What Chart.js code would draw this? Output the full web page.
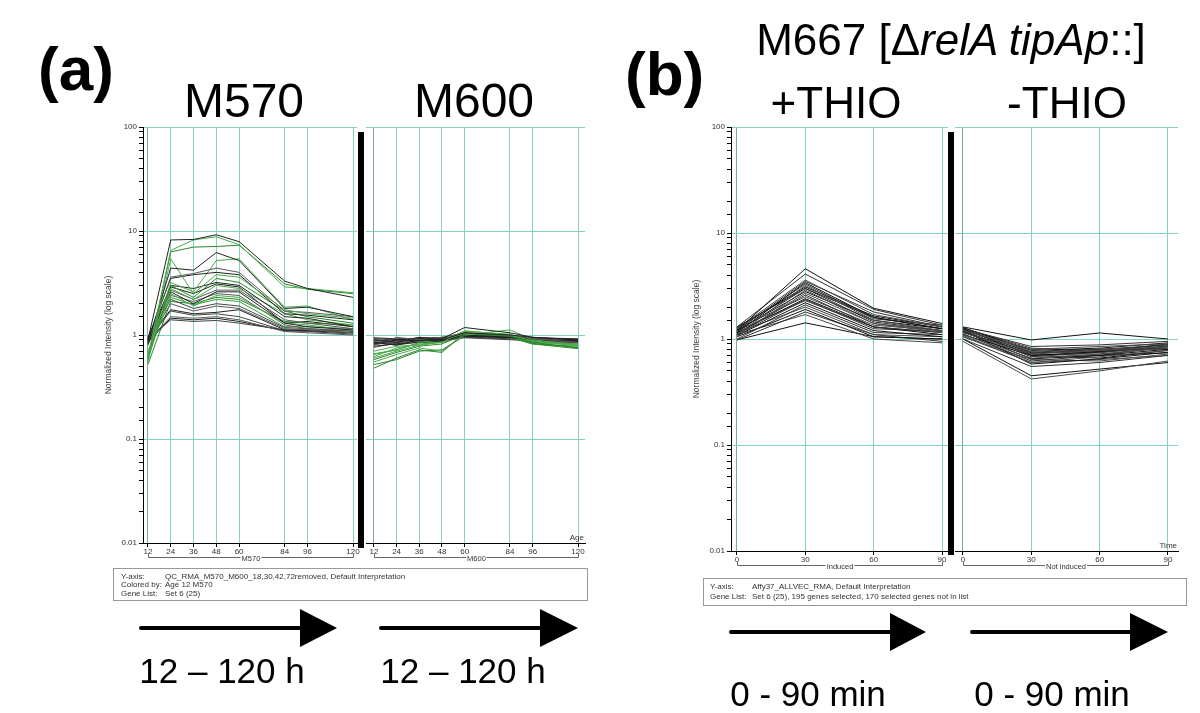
<!DOCTYPE html>
<html>
<head>
<meta charset="utf-8">
<script src="https://cdn.jsdelivr.net/npm/chart.js@4.4.1/dist/chart.umd.min.js"></script>
<style>
  body { margin: 0; background: #fff; width: 1200px; height: 713px; overflow: hidden; position: relative; font-family: "Liberation Sans", Arial, sans-serif; }
  .plot { position: absolute; }
  svg { position: absolute; left: 0; top: 0; }
</style>
</head>
<body>
<div id="a1" class="plot"><canvas></canvas></div>
<div id="a2" class="plot"><canvas></canvas></div>
<div id="b1" class="plot"><canvas></canvas></div>
<div id="b2" class="plot"><canvas></canvas></div>

<svg width="1200" height="713" font-family="Liberation Sans, Arial, sans-serif">
  <!-- panel labels and titles -->
  <text x="38" y="90" font-size="62" font-weight="bold">(a)</text>
  <text x="244" y="117" font-size="48" text-anchor="middle">M570</text>
  <text x="474" y="117" font-size="48" text-anchor="middle">M600</text>
  <text x="625" y="95" font-size="62" font-weight="bold">(b)</text>
  <text x="951" y="55" font-size="44" text-anchor="middle">M667 [Δ<tspan font-style="italic">relA tipAp</tspan>::]</text>
  <text x="836" y="118" font-size="44" text-anchor="middle">+THIO</text>
  <text x="1067" y="118" font-size="44" text-anchor="middle">-THIO</text>

  <!-- separators -->
  <rect x="358" y="132" width="6" height="416" fill="#000"/>
  <rect x="948" y="132" width="6" height="423" fill="#000"/>

  <!-- info boxes -->
  <g font-size="8" fill="#333">
    <rect x="113.5" y="568.5" width="474" height="32" fill="#fff" stroke="#999"/>
    <text x="121" y="579">Y-axis:</text>
    <text x="165" y="579">QC_RMA_M570_M600_18,30,42,72removed, Default Interpretation</text>
    <text x="121" y="587">Colored by:</text>
    <text x="165" y="587">Age 12  M570</text>
    <text x="121" y="596">Gene List:</text>
    <text x="165" y="596">Set 6 (25)</text>

    <rect x="703.5" y="578.5" width="483" height="27" fill="#fff" stroke="#999"/>
    <text x="710" y="589">Y-axis:</text>
    <text x="752" y="589">Affy37_ALLVEC_RMA, Default Interpretation</text>
    <text x="710" y="599">Gene List:</text>
    <text x="752" y="599">Set 6 (25), 195 genes selected, 170 selected genes not in list</text>
  </g>

  <!-- arrows -->
  <g stroke="#000" stroke-width="4" stroke-linecap="round">
    <line x1="141" y1="628" x2="302" y2="628"/>
    <line x1="381" y1="628" x2="542" y2="628"/>
    <line x1="731" y1="632" x2="892" y2="632"/>
    <line x1="972" y1="632" x2="1132" y2="632"/>
  </g>
  <polygon points="300,609 337,628 300,647" fill="#000"/>
  <polygon points="540,609 578,628 540,647" fill="#000"/>
  <polygon points="890,613 926,632 890,651" fill="#000"/>
  <polygon points="1130,613 1168,632 1130,651" fill="#000"/>
  <g font-size="35" text-anchor="middle">
    <text x="222" y="683">12 – 120 h</text>
    <text x="463" y="683">12 – 120 h</text>
    <text x="808" y="706">0 - 90 min</text>
    <text x="1052" y="706">0 - 90 min</text>
  </g>
</svg>

<script>
// sampling times
const hoursA = [12, 24, 36, 48, 60, 84, 96, 120];
const minutesB = [0, 30, 60, 90];

// (a) Set 6 genes, strain M570 (normalized intensity per age)
const m570 = [
  [0.90, 8.2, 8.3, 9.2, 7.9, 3.3, 2.8, 2.3],
  [0.62, 6.5, 8.2, 8.8, 7.4, 2.9, 2.8, 2.55],
  [0.60, 6.3, 7.0, 7.1, 7.3, 3.1, 2.75, 2.5],
  [0.85, 4.4, 4.2, 6.2, 5.2, 1.8, 1.85, 1.5],
  [0.55, 5.4, 2.5, 3.8, 3.6, 1.75, 1.6, 1.45],
  [0.88, 3.6, 3.9, 4.4, 4.0, 1.7, 1.65, 1.5],
  [0.92, 3.5, 3.8, 4.0, 3.8, 1.6, 1.55, 1.4],
  [0.65, 3.2, 2.6, 5.2, 5.4, 1.85, 1.9, 1.4],
  [0.58, 3.0, 2.3, 3.5, 3.2, 1.7, 1.5, 1.3],
  [0.80, 3.0, 2.8, 3.2, 3.0, 1.5, 1.45, 1.2],
  [0.60, 2.8, 2.2, 3.0, 2.8, 1.6, 1.4, 1.25],
  [0.85, 2.7, 2.2, 2.7, 2.7, 1.4, 1.3, 1.15],
  [0.90, 2.6, 2.0, 2.6, 2.6, 1.3, 1.2, 1.12],
  [0.70, 2.5, 1.9, 2.4, 2.3, 1.3, 1.25, 1.1],
  [0.82, 2.4, 2.1, 2.5, 2.4, 1.25, 1.15, 1.1],
  [0.66, 2.3, 1.95, 2.2, 2.1, 1.2, 1.2, 1.15],
  [0.90, 2.2, 1.8, 2.0, 1.9, 1.18, 1.15, 1.08],
  [0.87, 2.0, 1.7, 1.9, 1.8, 1.15, 1.12, 1.05],
  [0.93, 1.75, 1.6, 1.65, 1.75, 1.12, 1.1, 1.05],
  [0.90, 1.7, 1.55, 1.6, 1.5, 1.1, 1.08, 1.02],
  [0.88, 1.5, 1.45, 1.5, 1.4, 1.08, 1.05, 1.0],
  [0.85, 1.45, 1.4, 1.45, 1.35, 1.1, 1.1, 1.05],
  [0.92, 1.4, 1.35, 1.38, 1.3, 1.12, 1.12, 1.1],
  [0.52, 2.1, 2.0, 2.3, 2.2, 1.35, 1.3, 1.25],
  [0.95, 2.9, 2.5, 3.1, 2.9, 1.3, 1.35, 1.2]
];

// (a) same genes, strain M600
const m600 = [
  [0.90, 0.85, 0.95, 0.90, 1.05, 1.00, 0.95, 0.90],
  [0.60, 0.70, 0.80, 0.85, 1.10, 1.00, 0.88, 0.78],
  [0.48, 0.60, 0.72, 0.68, 1.05, 0.98, 0.85, 0.75],
  [0.82, 0.90, 0.88, 0.92, 1.18, 1.05, 0.95, 0.90],
  [0.55, 0.65, 0.75, 0.70, 1.00, 1.12, 0.90, 0.80],
  [0.80, 0.95, 0.90, 0.95, 1.05, 1.00, 0.92, 0.85],
  [0.85, 0.80, 0.90, 0.88, 1.00, 0.95, 0.90, 0.88],
  [0.65, 0.72, 0.85, 0.90, 1.08, 1.02, 0.85, 0.80],
  [0.58, 0.68, 0.78, 0.82, 1.02, 0.97, 0.83, 0.76],
  [0.78, 0.82, 0.85, 0.88, 0.98, 0.95, 0.90, 0.86],
  [0.62, 0.75, 0.82, 0.85, 1.05, 0.98, 0.86, 0.80],
  [0.88, 0.85, 0.95, 0.92, 1.00, 0.98, 0.92, 0.90],
  [0.92, 0.90, 0.92, 0.95, 0.97, 0.95, 0.94, 0.92],
  [0.70, 0.78, 0.80, 0.86, 1.02, 0.96, 0.84, 0.82],
  [0.80, 0.88, 0.86, 0.90, 0.96, 0.93, 0.90, 0.85],
  [0.66, 0.72, 0.84, 0.86, 1.00, 0.95, 0.82, 0.78],
  [0.90, 0.86, 0.90, 0.88, 0.98, 0.94, 0.92, 0.88],
  [0.86, 0.84, 0.88, 0.90, 1.00, 0.96, 0.90, 0.86],
  [0.94, 0.92, 0.93, 0.94, 0.96, 0.92, 0.90, 0.87],
  [0.84, 0.80, 0.86, 0.87, 0.95, 0.93, 0.88, 0.84],
  [0.76, 0.84, 0.88, 0.85, 0.97, 0.94, 0.86, 0.82],
  [0.82, 0.88, 0.90, 0.92, 0.99, 0.96, 0.92, 0.89],
  [0.88, 0.90, 0.85, 0.90, 0.94, 0.90, 0.88, 0.85],
  [0.52, 0.58, 0.70, 0.72, 0.98, 0.94, 0.82, 0.74],
  [0.86, 0.82, 0.92, 0.90, 1.02, 0.97, 0.90, 0.86]
];

// (b) M667, induced with thiostrepton
const induced = [
  [1.20, 4.6, 1.95, 1.40],
  [1.30, 4.1, 1.90, 1.35],
  [1.25, 3.6, 1.70, 1.30],
  [1.15, 3.4, 1.60, 1.25],
  [1.22, 3.3, 1.55, 1.35],
  [1.10, 3.2, 1.50, 1.20],
  [1.28, 3.1, 1.65, 1.30],
  [1.18, 3.0, 1.45, 1.20],
  [1.05, 2.9, 1.40, 1.15],
  [1.20, 2.8, 1.50, 1.25],
  [1.12, 2.6, 1.30, 1.15],
  [1.25, 2.5, 1.35, 1.20],
  [1.15, 2.4, 1.30, 1.10],
  [1.10, 2.35, 1.25, 1.18],
  [1.20, 2.3, 1.30, 1.15],
  [1.08, 2.2, 1.20, 1.05],
  [1.00, 2.1, 1.15, 1.10],
  [1.15, 2.0, 1.10, 1.05],
  [1.05, 1.9, 1.05, 1.00],
  [0.98, 1.8, 1.10, 0.95],
  [1.10, 1.7, 1.00, 0.92],
  [0.98, 1.42, 1.05, 1.00],
  [1.20, 3.5, 1.80, 1.30],
  [1.12, 2.7, 1.40, 1.20],
  [1.30, 3.0, 1.60, 1.25]
];

// (b) M667, not induced
const notInduced = [
  [1.30, 0.98, 1.14, 1.00],
  [1.25, 0.85, 0.88, 0.95],
  [1.20, 0.80, 0.85, 0.90],
  [1.28, 0.78, 0.82, 0.92],
  [1.22, 0.75, 0.80, 0.88],
  [1.15, 0.72, 0.78, 0.85],
  [1.25, 0.70, 0.76, 0.90],
  [1.20, 0.68, 0.75, 0.86],
  [1.10, 0.66, 0.72, 0.82],
  [1.18, 0.65, 0.70, 0.80],
  [1.12, 0.62, 0.70, 0.85],
  [1.05, 0.60, 0.68, 0.78],
  [1.20, 0.58, 0.65, 0.75],
  [1.00, 0.55, 0.60, 0.70],
  [0.95, 0.42, 0.50, 0.62],
  [1.00, 0.45, 0.52, 0.60],
  [1.15, 0.73, 0.80, 0.80],
  [1.28, 0.76, 0.72, 0.84],
  [1.10, 0.70, 0.66, 0.78],
  [1.22, 0.80, 0.74, 0.86],
  [1.05, 0.64, 0.62, 0.72],
  [1.18, 0.72, 0.70, 0.74],
  [1.26, 0.82, 0.78, 0.88],
  [1.08, 0.60, 0.64, 0.70],
  [1.24, 0.74, 0.76, 0.82]
];

// line colours (coloured by Age 12 M570 -> low values green)
const colorsA = m570.map((row, i) => {
  if (row[0] < 0.72) return ['#3c9f3c', '#4aab4a', '#2d852d'][i % 3];
  return ['#222', '#444', '#5a5a5a'][i % 3];
});
const colorsB = induced.map((r, i) => ['#111', '#333', '#4a4a4a'][i % 3]);

const FONT = 'Liberation Sans';
const GRID = '#86d2c2';
const X_AXIS_H = 30;

function isDecade(v) {
  const l = Math.log10(v);
  return Math.abs(l - Math.round(l)) < 1e-6;
}

// bracket under the x axis with its group name, plus the axis name in the corner
const bracket = {
  id: 'bracket',
  afterDraw(chart, args, o) {
    const xs = chart.scales.x, ctx = chart.ctx, ca = chart.chartArea;
    const x0 = Math.round(xs.getPixelForValue(o.from)) + 0.5;
    const x1 = Math.round(xs.getPixelForValue(o.to)) + 0.5;
    const y = Math.round(ca.bottom + 14) + 0.5;
    ctx.save();
    ctx.font = '7.5px ' + FONT;
    const tw = ctx.measureText(o.label).width;
    const xm = (x0 + x1) / 2;
    ctx.strokeStyle = '#666';
    ctx.lineWidth = 1;
    ctx.beginPath();
    ctx.moveTo(x0, y - 4); ctx.lineTo(x0, y); ctx.lineTo(xm - tw / 2 - 1, y);
    ctx.moveTo(xm + tw / 2 + 1, y); ctx.lineTo(x1, y); ctx.lineTo(x1, y - 4);
    ctx.stroke();
    ctx.fillStyle = '#333';
    ctx.textAlign = 'center';
    ctx.textBaseline = 'middle';
    ctx.fillText(o.label, xm, y + 1);
    if (o.corner) {
      ctx.font = '8px ' + FONT;
      ctx.textAlign = 'right';
      ctx.textBaseline = 'bottom';
      ctx.fillText(o.corner, ca.right - 1, ca.bottom - 1);
    }
    ctx.restore();
  }
};

function makePlot(id, area, withY, xMin, xMax, xs, rows, colors, brk) {
  const padL = 4, padR = 12, padT = 8, padB = 2;
  const yW = withY ? 40 : 0;
  const el = document.getElementById(id);
  el.style.left = (area.left - padL - yW) + 'px';
  el.style.top = (area.top - padT) + 'px';
  el.style.width = (area.right - area.left + padL + yW + padR) + 'px';
  el.style.height = (area.bottom - area.top + padT + X_AXIS_H + padB) + 'px';

  const datasets = rows.map((row, i) => ({
    data: xs.map((x, j) => ({ x: x, y: row[j] })),
    borderColor: colors[i],
    borderWidth: 1,
    pointRadius: 0,
    tension: 0,
    fill: false
  }));

  return new Chart(el.querySelector('canvas'), {
    type: 'line',
    data: { datasets },
    plugins: [bracket],
    options: {
      responsive: true,
      maintainAspectRatio: false,
      animation: false,
      layout: { padding: { left: padL, right: padR, top: padT, bottom: padB } },
      plugins: { legend: { display: false }, tooltip: { enabled: false }, bracket: brk },
      scales: {
        x: {
          type: 'linear',
          min: xMin,
          max: xMax,
          afterBuildTicks: s => { s.ticks = xs.map(v => ({ value: v })); },
          afterFit: s => { s.height = X_AXIS_H; },
          grid: {
            color: c => c.index === 0 ? '#7fa898' : GRID,
            tickColor: '#000',
            tickLength: 4
          },
          border: { color: '#000' },
          ticks: { autoSkip: false, maxRotation: 0, padding: 0, color: '#333', font: { family: FONT, size: 8 } }
        },
        y: {
          type: 'logarithmic',
          min: 0.01,
          max: 100,
          afterFit: s => { s.width = yW; },
          grid: {
            color: c => isDecade(c.tick.value) ? GRID : 'rgba(0,0,0,0)',
            drawTicks: withY,
            tickColor: '#000',
            tickLength: 4
          },
          border: { display: withY, color: '#000' },
          ticks: {
            display: withY,
            autoSkip: false,
            padding: 2,
            color: '#333',
            font: { family: FONT, size: 8 },
            callback: v => isDecade(v) ? String(v) : ''
          },
          title: {
            display: withY,
            text: 'Normalized Intensity (log scale)',
            color: '#444',
            font: { family: FONT, size: 8.5 },
            padding: { top: 1, bottom: 0 }
          }
        }
      }
    }
  });
}

makePlot('a1', { left: 143, right: 357, top: 127, bottom: 543 }, true, 9.4, 122.1,
  hoursA, m570, colorsA, { from: 12, to: 120, label: 'M570' });
makePlot('a2', { left: 366, right: 585, top: 127, bottom: 543 }, false, 7.8, 123.7,
  hoursA, m600, colorsA, { from: 12, to: 120, label: 'M600', corner: 'Age' });
makePlot('b1', { left: 731, right: 948, top: 127, bottom: 551 }, true, -2.6, 92.6,
  minutesB, induced, colorsB, { from: 0, to: 90, label: 'Induced' });
makePlot('b2', { left: 955, right: 1178, top: 127, bottom: 551 }, false, -3.5, 94.4,
  minutesB, notInduced, colorsB, { from: 0, to: 90, label: 'Not induced', corner: 'Time' });
</script>
</body>
</html>
